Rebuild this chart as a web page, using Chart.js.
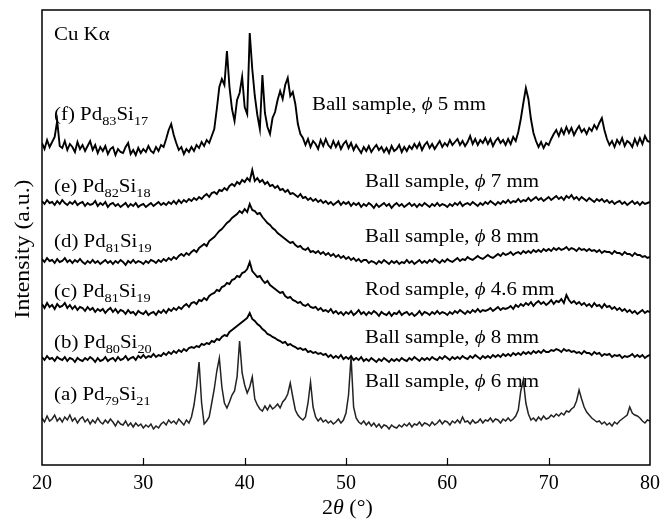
<!DOCTYPE html>
<html lang="en">
<head>
<meta charset="UTF-8">
<title>XRD Pd-Si</title>
<script src="https://cdn.jsdelivr.net/npm/chart.js@4.4.0/dist/chart.umd.min.js"></script>
<style>
  html, body { margin: 0; padding: 0; background: #fff; }
  #xrd { display: block; }
</style>
</head>
<body>
<canvas id="xrd" width="667" height="522"></canvas>
<script>
// 2theta grid (deg), 0.25 step
const twoTheta = [20,20.25,20.5,20.75,21,21.25,21.5,21.75,22,22.25,22.5,22.75,23,23.25,23.5,23.75,24,24.25,24.5,24.75,25,25.25,25.5,25.75,26,26.25,26.5,26.75,27,27.25,27.5,27.75,28,28.25,28.5,28.75,29,29.25,29.5,29.75,30,30.25,30.5,30.75,31,31.25,31.5,31.75,32,32.25,32.5,32.75,33,33.25,33.5,33.75,34,34.25,34.5,34.75,35,35.25,35.5,35.75,36,36.25,36.5,36.75,37,37.25,37.5,37.75,38,38.25,38.5,38.75,39,39.25,39.5,39.75,40,40.25,40.5,40.75,41,41.25,41.5,41.75,42,42.25,42.5,42.75,43,43.25,43.5,43.75,44,44.25,44.5,44.75,45,45.25,45.5,45.75,46,46.25,46.5,46.75,47,47.25,47.5,47.75,48,48.25,48.5,48.75,49,49.25,49.5,49.75,50,50.25,50.5,50.75,51,51.25,51.5,51.75,52,52.25,52.5,52.75,53,53.25,53.5,53.75,54,54.25,54.5,54.75,55,55.25,55.5,55.75,56,56.25,56.5,56.75,57,57.25,57.5,57.75,58,58.25,58.5,58.75,59,59.25,59.5,59.75,60,60.25,60.5,60.75,61,61.25,61.5,61.75,62,62.25,62.5,62.75,63,63.25,63.5,63.75,64,64.25,64.5,64.75,65,65.25,65.5,65.75,66,66.25,66.5,66.75,67,67.25,67.5,67.75,68,68.25,68.5,68.75,69,69.25,69.5,69.75,70,70.25,70.5,70.75,71,71.25,71.5,71.75,72,72.25,72.5,72.75,73,73.25,73.5,73.75,74,74.25,74.5,74.75,75,75.25,75.5,75.75,76,76.25,76.5,76.75,77,77.25,77.5,77.75,78,78.25,78.5,78.75,79,79.25,79.5,79.75,80];

// intensities (a.u.), already stacked with offsets as in the figure
const pd83si17 = [
322,316,325,318, 323,328,344,319, 317,324,315,321, 318,313,323,316, 320,314,319,324,
315,320,312,318, 314,319,311,316, 318,310,316,313, 312,318,322,311, 315,310,317,312,
316,313,319,314, 312,318,314,320, 318,326,335,341, 330,322,315,318, 311,316,313,318,
314,320,317,323, 319,325,322,329, 336,356,378,386, 380,414,378,356, 344,365,372,388,
358,351,432,396, 369,350,336,390, 352,338,331,347, 353,365,374,366, 380,387,369,373,
361,341,331,327, 320,326,318,324, 321,316,325,319, 326,320,317,324, 318,323,316,321,
324,317,322,315, 320,316,312,318, 314,319,313,317, 320,315,318,313, 317,312,319,314,
316,320,313,318, 314,319,316,321, 317,322,315,320, 323,317,321,316, 320,324,318,322,
319,325,320,323, 326,320,324,319, 323,329,321,326, 320,325,322,327, 321,326,319,324,
327,322,325,320, 326,321,328,324, 333,346,362,377, 366,346,332,324, 318,323,317,322,
320,326,331,335, 329,336,331,338, 332,337,330,335, 339,333,336,331, 337,334,340,336,
342,347,335,326, 320,324,318,325, 321,327,319,324, 322,318,326,320, 327,321,329,324,
323];
const pd82si18 = [
264,261,265,262, 263,260,264,261, 265,262,260,263, 261,264,260,262, 263,259,262,260,
261,264,259,262, 260,263,258,261, 262,259,261,258, 260,262,258,261, 259,262,258,260,
261,258,260,262, 259,261,263,260, 262,260,263,261, 264,261,265,262, 265,263,266,264,
267,265,268,266, 269,271,268,272, 273,271,275,274, 277,275,279,281, 279,283,281,285,
283,287,284,295, 284,287,283,285, 281,283,279,280, 277,279,275,276, 273,275,271,272,
270,268,271,267, 268,265,267,264, 266,263,265,262, 264,261,263,260, 262,264,260,263,
261,263,259,262, 260,262,258,261, 259,262,260,257, 261,258,260,262, 259,261,257,260,
262,259,261,258, 260,262,259,261, 258,261,259,262, 260,258,261,259, 262,259,261,260,
258,261,259,262, 260,263,259,261, 262,260,263,261, 259,262,260,263, 261,264,262,260,
263,261,264,262, 265,262,264,263, 266,263,265,264, 267,264,266,268, 265,267,264,266,
268,265,267,269, 266,268,265,269, 267,270,266,268, 265,268,266,264, 267,265,263,266,
264,266,263,265, 262,264,261,263, 264,261,263,260, 262,264,261,263, 260,263,261,262,
263];
const pd81si19Ball = [
206,203,207,204, 205,202,206,203, 204,207,203,205, 202,205,203,206, 203,201,204,202,
205,202,204,201, 203,205,202,204, 201,204,202,205, 203,200,204,202, 205,202,204,203,
201,204,202,205, 204,202,205,203, 206,204,207,205, 208,206,209,211, 209,212,210,213,
215,213,217,219, 221,219,224,226, 228,231,234,236, 239,242,244,247, 249,251,254,252,
256,253,261,255, 254,251,252,248, 245,242,240,237, 235,232,230,228, 226,224,222,223,
220,218,219,216, 215,217,213,214, 212,214,211,213, 210,212,209,211, 208,210,207,209,
206,208,205,207, 204,206,203,205, 205,202,204,203, 201,204,202,205, 203,201,204,202,
204,201,203,202, 205,202,204,201, 203,205,202,204, 202,205,203,206, 204,202,205,203,
206,204,203,205, 207,204,206,205, 208,206,205,207, 209,207,206,208, 210,208,207,209,
211,209,212,210, 211,213,210,212, 213,211,214,212, 214,212,215,213, 215,213,216,214,
216,214,217,215, 217,215,216,218, 215,217,216,214, 217,215,216,214, 216,214,215,213,
215,212,214,213, 213,211,214,212, 212,210,213,211, 211,209,212,210, 210,208,209,207,
208];
const pd81si19Rod = [
161,157,162,158, 160,156,161,158, 159,162,157,160, 156,159,155,158, 157,154,158,155,
157,153,156,154, 156,152,155,157, 153,156,152,155, 154,151,155,152, 153,150,154,152,
151,154,150,152, 153,150,154,152, 155,152,156,154, 157,155,158,156, 159,161,158,162,
163,161,165,164, 167,165,169,171, 172,175,174,178, 179,182,181,185, 186,189,188,192,
193,196,203,194, 191,188,189,185, 182,184,180,178, 176,174,172,173, 169,167,168,165,
164,162,163,160, 159,161,158,157, 158,155,157,154, 155,153,156,152, 154,151,153,150,
153,151,154,150, 152,155,151,153, 150,153,151,154, 152,149,153,151, 150,153,149,152,
151,154,150,152, 153,150,152,149, 151,154,150,153, 152,150,153,151, 154,151,153,152,
150,153,151,154, 152,155,153,151, 154,152,155,153, 156,153,155,154, 155,157,154,156,
158,155,157,156, 157,159,156,160, 158,161,159,162, 160,163,159,162, 164,161,163,160,
162,165,161,164, 163,166,162,170, 165,162,164,161, 163,160,162,159, 161,158,162,159,
160,157,161,158, 159,156,158,155, 157,154,156,153, 155,152,154,151, 153,155,152,154,
153];
const pd80si20 = [
108,105,109,106, 107,104,108,106, 105,108,104,107, 106,103,107,105, 104,107,105,108,
106,103,107,104, 105,108,104,106, 107,104,108,105, 106,109,105,107, 108,105,109,107,
110,107,109,108, 111,108,110,109, 112,110,113,111, 114,112,115,113, 116,114,117,118,
117,119,118,121, 120,122,121,124, 123,126,125,128, 130,129,133,135, 137,139,141,143,
145,147,152,146, 144,141,139,136, 134,131,130,128, 127,125,124,122, 123,120,121,119,
118,116,117,115, 116,113,114,112, 113,111,112,110, 111,108,110,107, 109,107,110,106,
108,106,109,105, 107,105,108,104, 106,104,107,105, 103,106,104,107, 105,103,106,104,
106,104,107,105, 104,107,105,108, 106,104,107,105, 107,105,108,106, 105,108,106,109,
107,105,108,106, 108,106,109,107, 106,109,107,110, 108,106,109,107, 109,107,110,108,
110,108,111,109, 111,109,112,110, 112,110,113,111, 113,111,114,112, 114,112,115,113,
113,115,114,116, 115,113,116,114, 115,113,114,112, 113,111,114,112, 112,110,113,111,
112,109,111,110, 111,108,110,109, 110,107,109,108, 109,111,108,110, 108,110,107,109,
110];
const pd79si21 = [
47,43,49,44, 46,50,44,47, 43,48,45,50, 44,47,42,46, 48,43,46,41,
45,42,47,43, 41,45,42,46, 43,39,44,41, 40,44,39,42, 38,42,39,41,
37,40,38,41, 36,39,37,41, 43,40,45,42, 44,41,46,43, 40,45,42,48,
60,78,103,62, 41,44,48,62, 76,94,107,78, 62,57,63,70, 74,88,124,92,
80,72,78,88, 66,60,56,54, 59,55,60,56, 58,61,57,63, 66,71,82,68,
55,50,47,45, 48,62,83,58, 48,44,47,43, 45,42,44,41, 43,46,42,45,
52,70,108,58, 47,43,41,44, 40,43,39,42, 38,41,37,40, 39,36,40,38,
37,40,38,41, 39,42,38,41, 40,43,39,42, 41,39,43,40, 42,45,41,44,
43,40,44,42, 45,42,48,43, 44,41,45,42, 43,46,42,45, 44,47,43,46,
45,42,46,44, 47,44,46,49, 55,74,85,62, 51,45,47,44, 48,45,49,46,
47,50,48,51, 49,52,50,54, 53,56,58,64, 75,66,58,53, 50,47,45,43,
44,41,43,40, 42,39,43,41, 44,46,48,50, 58,52,50,49, 47,44,42,45,
44];

const xTicks = [20, 30, 40, 50, 60, 70, 80];

const traceLabels = [
  { y: 120, parts: [['(f) Pd'], ['83', 'sub'], ['Si'], ['17', 'sub']] },
  { y: 192, parts: [['(e) Pd'], ['82', 'sub'], ['Si'], ['18', 'sub']] },
  { y: 247, parts: [['(d) Pd'], ['81', 'sub'], ['Si'], ['19', 'sub']] },
  { y: 297, parts: [['(c) Pd'], ['81', 'sub'], ['Si'], ['19', 'sub']] },
  { y: 348, parts: [['(b) Pd'], ['80', 'sub'], ['Si'], ['20', 'sub']] },
  { y: 400, parts: [['(a) Pd'], ['79', 'sub'], ['Si'], ['21', 'sub']] }
];
const sampleNotes = [
  { x: 312, y: 110, parts: [['Ball sample, '], ['\u03d5', 'it'], [' 5 mm']] },
  { x: 365, y: 187, parts: [['Ball sample, '], ['\u03d5', 'it'], [' 7 mm']] },
  { x: 365, y: 242, parts: [['Ball sample, '], ['\u03d5', 'it'], [' 8 mm']] },
  { x: 365, y: 295, parts: [['Rod sample, '], ['\u03d5', 'it'], [' 4.6 mm']] },
  { x: 365, y: 343, parts: [['Ball sample, '], ['\u03d5', 'it'], [' 8 mm']] },
  { x: 365, y: 387, parts: [['Ball sample, '], ['\u03d5', 'it'], [' 6 mm']] }
];

const FONT = '"Liberation Serif", "Times New Roman", serif';
const SX = 1.1; // text looks a bit wide in the original

function drawRich(ctx, x, y, parts, size) {
  ctx.save();
  ctx.translate(x, y);
  ctx.scale(SX, 1);
  let cx = 0;
  parts.forEach(p => {
    const txt = p[0], st = p[1];
    let fs = size, dy = 0, style = '';
    if (st === 'sub') { fs = Math.round(size * 0.68); dy = 5; }
    if (st === 'it') style = 'italic ';
    ctx.font = style + fs + 'px ' + FONT;
    ctx.fillText(txt, cx, dy);
    cx += ctx.measureText(txt).width;
  });
  ctx.restore();
}

const frame = {
  id: 'frame',
  afterDraw(chart) {
    const ctx = chart.ctx, a = chart.chartArea, xs = chart.scales.x;
    ctx.save();
    ctx.strokeStyle = '#000';
    ctx.lineWidth = 1.5;
    ctx.strokeRect(a.left, a.top, a.right - a.left, a.bottom - a.top);
    ctx.lineWidth = 1.2;
    xTicks.slice(1, -1).forEach(v => {
      const px = Math.round(xs.getPixelForValue(v)) + 0.5;
      ctx.beginPath();
      ctx.moveTo(px, a.bottom);
      ctx.lineTo(px, a.bottom - 7);
      ctx.stroke();
    });
    ctx.fillStyle = '#000';
    ctx.textBaseline = 'alphabetic';
    ctx.textAlign = 'left';
    drawRich(ctx, 54, 40, [['Cu K'], ['\u03b1']], 19);
    traceLabels.forEach(l => drawRich(ctx, 54, l.y, l.parts, 19));
    sampleNotes.forEach(n => drawRich(ctx, n.x, n.y, n.parts, 19));
    // x title
    drawRich(ctx, 322, 514, [['2'], ['\u03b8', 'it'], [' (\u00b0)']], 20);
    // y title
    ctx.save();
    ctx.translate(29, 249);
    ctx.rotate(-Math.PI / 2);
    ctx.scale(1.13, 1);
    ctx.font = '21px ' + FONT;
    ctx.textAlign = 'center';
    ctx.fillText('Intensity (a.u.)', 0, 0);
    ctx.restore();
    ctx.restore();
  }
};

function trace(vals, w, col) {
  return {
    data: twoTheta.map((t, i) => ({ x: t, y: vals[i] })),
    borderColor: col,
    borderWidth: w,
    pointRadius: 0,
    tension: 0,
    fill: false
  };
}

new Chart(document.getElementById('xrd'), {
  type: 'line',
  data: {
    datasets: [
      trace(pd83si17, 1.9, '#000'),
      trace(pd82si18, 1.9, '#000'),
      trace(pd81si19Ball, 1.9, '#000'),
      trace(pd81si19Rod, 1.9, '#000'),
      trace(pd80si20, 1.9, '#000'),
      trace(pd79si21, 1.5, '#222')
    ]
  },
  options: {
    responsive: false,
    animation: false,
    layout: { padding: { left: 42, right: 13, top: 10, bottom: 0 } },
    plugins: { legend: { display: false }, tooltip: { enabled: false } },
    scales: {
      x: {
        type: 'linear',
        min: 20, max: 80,
        afterBuildTicks: s => { s.ticks = xTicks.map(v => ({ value: v })); },
        afterFit: s => { s.height = 57; },
        grid: { display: false, drawTicks: false },
        border: { display: false },
        ticks: { color: '#000', padding: 7, maxRotation: 0, font: { family: FONT, size: 20 } }
      },
      y: { display: false, min: 0, max: 455 }
    }
  },
  plugins: [frame]
});
</script>
</body>
</html>
